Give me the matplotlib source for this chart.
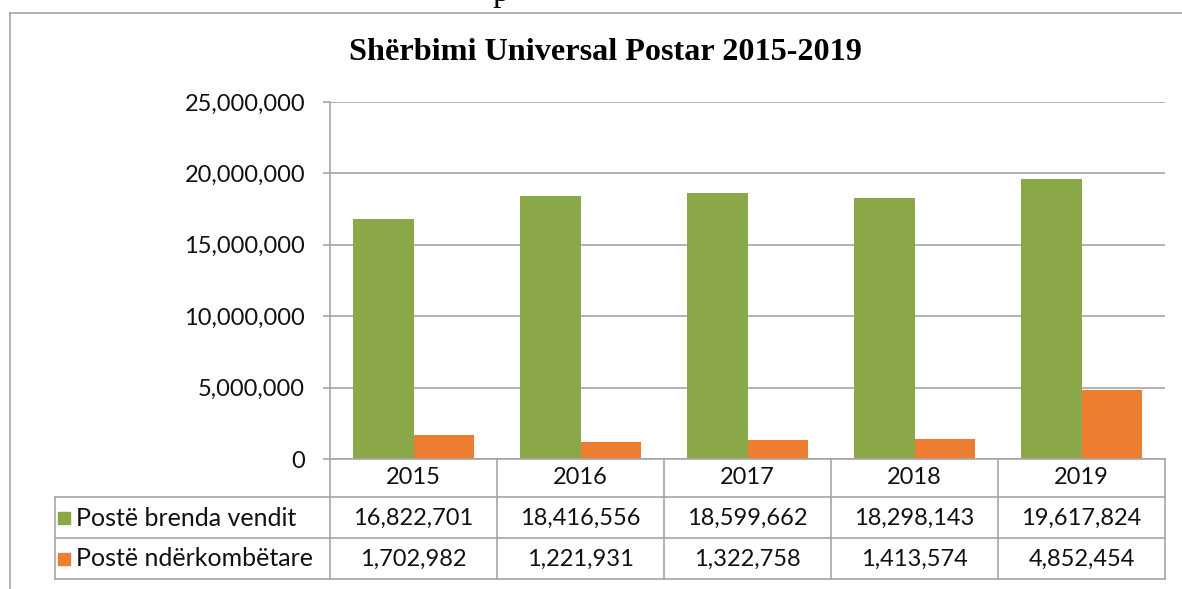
import matplotlib
matplotlib.use('Agg')
import numpy as np
import matplotlib.pyplot as plt
import matplotlib.transforms as mtransforms
from matplotlib.lines import Line2D
from matplotlib.patches import Rectangle

# ---- data ----
years = ['2015', '2016', '2017', '2018', '2019']
domestic = [16822701, 18416556, 18599662, 18298143, 19617824]
international = [1702982, 1221931, 1322758, 1413574, 4852454]
series_names = ['Postë brenda vendit', 'Postë ndërkombëtare']
title = 'Shërbimi Universal Postar 2015-2019'
yticks = [0, 5000000, 10000000, 15000000, 20000000, 25000000]

green = '#8AA847'
orange = '#ED7D31'
grid = '#A6A6A6'
txt = '#111111'
sans = ['Lato', 'DejaVu Sans']
serif = ['Liberation Serif', 'DejaVu Serif']

W, H = 1182, 589
fig = plt.figure(figsize=(W / 100, H / 100), dpi=100)
fig.patch.set_facecolor('white')


def fx(px):
    return px / W


def fy(py):
    return 1 - py / H


ax = fig.add_axes([fx(330), fy(459), fx(1165) - fx(330), fy(102) - fy(459)])
x = np.arange(len(years))
bw = 0.36
ax.bar(x - bw / 2, domestic, bw, color=green, zorder=3)
ax.bar(x + bw / 2, international, bw, color=orange, zorder=3)
ax.set_xlim(-0.5, len(years) - 0.5)
ax.set_ylim(0, 25000000)
ax.set_yticks(yticks)
ax.set_yticklabels([f'{v:,}' for v in yticks], fontfamily=sans, fontsize=17, color=txt)
ax.set_xticks([])
ax.yaxis.grid(True, color=grid, lw=1.2)
ax.set_axisbelow(True)
for s in ['top', 'right', 'bottom']:
    ax.spines[s].set_visible(False)
ax.spines['left'].set_color(grid)
ax.spines['left'].set_linewidth(1.2)
ax.tick_params(axis='y', length=5, width=1.2, color=grid, pad=13)

# ---- data table ----
tr = mtransforms.blended_transform_factory(ax.transData, fig.transFigure)
lw = 1.2
for xe in np.arange(len(years) + 1) - 0.5:
    fig.add_artist(Line2D([xe, xe], [fy(459), fy(579)], transform=tr, color=grid, lw=lw))
fig.add_artist(Line2D([-0.5, len(years) - 0.5], [fy(459), fy(459)], transform=tr, color=grid, lw=lw))
for yp in [497, 538, 579]:
    fig.add_artist(Line2D([fx(55), fx(1165)], [fy(yp), fy(yp)], color=grid, lw=lw))
fig.add_artist(Line2D([fx(55), fx(55)], [fy(497), fy(579)], color=grid, lw=lw))

for i, yr in enumerate(years):
    fig.text(i, fy(478), yr, transform=tr, ha='center', va='center',
             fontfamily=sans, fontsize=17, color=txt)
    fig.text(i, fy(518), f'{domestic[i]:,}', transform=tr, ha='center', va='center',
             fontfamily=sans, fontsize=17, color=txt)
    fig.text(i, fy(559), f'{international[i]:,}', transform=tr, ha='center', va='center',
             fontfamily=sans, fontsize=17, color=txt)

for name, col, yc in zip(series_names, [green, orange], [518, 559]):
    fig.add_artist(Rectangle((fx(58), fy(yc + 6)), fx(12), 12 / H, color=col,
                             transform=fig.transFigure))
    fig.text(fx(76), fy(yc), name, ha='left', va='center', fontfamily=sans,
             fontsize=18, color=txt)

# ---- title and frame ----
fig.text(fx(605), fy(52), title, ha='center', va='center', fontfamily=serif,
         fontweight='bold', fontsize=23.2, color='black')
fig.add_artist(Line2D([fx(10), fx(10)], [fy(13), 0], color=grid, lw=1.2))
fig.add_artist(Line2D([fx(10), 1], [fy(13), fy(13)], color=grid, lw=1.2))
fig.text(fx(492), fy(1), 'p', ha='left', va='baseline', fontfamily=serif,
         fontsize=24, color='black')

fig.savefig('out.png', dpi=100, facecolor='white')
